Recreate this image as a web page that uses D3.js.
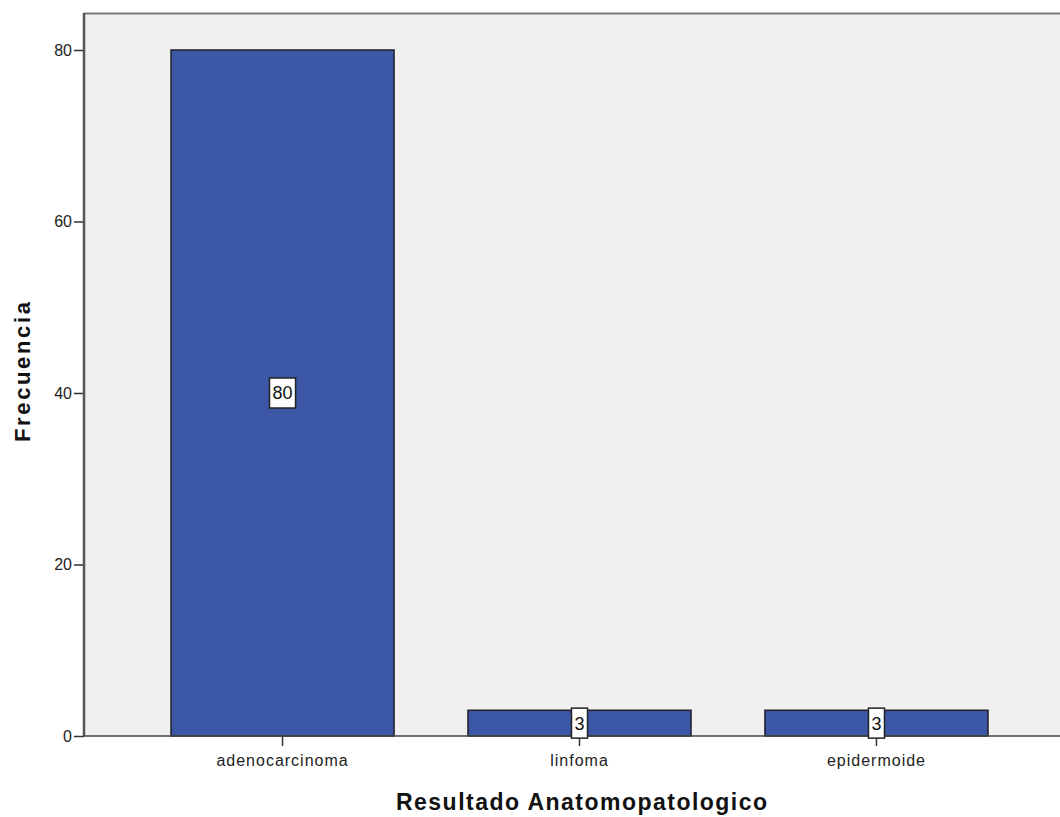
<!DOCTYPE html>
<html>
<head>
<meta charset="utf-8">
<script src="https://cdn.jsdelivr.net/npm/d3@7/dist/d3.min.js"></script>
<style>
  html, body { margin: 0; padding: 0; background: #ffffff; }
  svg { display: block; }
</style>
</head>
<body>
<script>
// Frequency of pathology results
const categories = ["adenocarcinoma", "linfoma", "epidermoide"];
const frequencies = [80, 3, 3];
const yTicks = [0, 20, 40, 60, 80];
const xTitle = "Resultado Anatomopatologico";
const yTitle = "Frecuencia";

const W = 1060, H = 817;
const plot = { left: 84, top: 13, right: 1075, bottom: 736 };
const FONT = "Liberation Sans, Arial, sans-serif";

const svg = d3.select("body").append("svg")
  .attr("width", W).attr("height", H);

const x = d3.scaleBand()
  .domain(categories)
  .range([plot.left, plot.right])
  .paddingInner(0.249)
  .paddingOuter(0.293);

const y = d3.scaleLinear()
  .domain([0, 80])
  .range([plot.bottom, 50]);

// plot background
svg.append("rect")
  .attr("x", plot.left).attr("y", plot.top)
  .attr("width", plot.right - plot.left).attr("height", plot.bottom - plot.top)
  .attr("fill", "#f0f0f0");

// top frame line
svg.append("line")
  .attr("x1", plot.left).attr("x2", plot.right)
  .attr("y1", plot.top + 0.5).attr("y2", plot.top + 0.5)
  .attr("stroke", "#7a7a7a").attr("stroke-width", 2);

// bars
svg.append("g").selectAll("rect")
  .data(categories)
  .join("rect")
  .attr("x", d => x(d))
  .attr("y", (d, i) => y(frequencies[i]))
  .attr("width", x.bandwidth())
  .attr("height", (d, i) => y(0) - y(frequencies[i]))
  .attr("fill", "#3d57a7")
  .attr("stroke", "#1e1e28")
  .attr("stroke-width", 1.5);

// y axis
const yAxis = svg.append("g")
  .attr("transform", `translate(${plot.left},0)`)
  .call(d3.axisLeft(y).tickValues(yTicks).tickSize(10).tickPadding(2).tickSizeOuter(0));
yAxis.select(".domain").remove();
yAxis.append("line")
  .attr("x1", 0).attr("x2", 0)
  .attr("y1", plot.top).attr("y2", plot.bottom)
  .attr("stroke", "#555").attr("stroke-width", 2.5);
yAxis.selectAll(".tick line").attr("stroke", "#333").attr("stroke-width", 1.5);
yAxis.selectAll(".tick text")
  .attr("font-family", FONT)
  .attr("font-size", 16).attr("fill", "#222");

// x axis
const xAxis = svg.append("g")
  .attr("transform", `translate(0,${plot.bottom})`)
  .call(d3.axisBottom(x).tickSize(10).tickPadding(9).tickSizeOuter(0));
xAxis.select(".domain").remove();
xAxis.append("line")
  .attr("x1", plot.left).attr("x2", plot.right)
  .attr("y1", 0).attr("y2", 0)
  .attr("stroke", "#444").attr("stroke-width", 1.5);
xAxis.selectAll(".tick line").attr("stroke", "#333").attr("stroke-width", 1.5);
xAxis.selectAll(".tick text")
  .attr("font-family", FONT)
  .attr("font-size", 16).attr("letter-spacing", 1).attr("fill", "#222");

// value labels in the middle of each bar
const labels = svg.append("g").selectAll("g")
  .data(categories)
  .join("g")
  .attr("transform", (d, i) => `translate(${x(d) + x.bandwidth() / 2},${y(frequencies[i] / 2)})`);
labels.append("text")
  .attr("text-anchor", "middle")
  .attr("dy", "0.36em")
  .attr("font-family", FONT)
  .attr("font-size", 18).attr("fill", "#111")
  .text((d, i) => frequencies[i])
  .each(function () {
    const b = this.getBBox();
    d3.select(this.parentNode).insert("rect", "text")
      .attr("x", b.x - 3).attr("y", -15)
      .attr("width", b.width + 6).attr("height", 30)
      .attr("fill", "#ffffff")
      .attr("stroke", "#222").attr("stroke-width", 1.5);
  });

// axis titles
svg.append("text")
  .attr("x", 396).attr("y", 810)
  .attr("textLength", 371).attr("lengthAdjust", "spacing")
  .attr("font-family", FONT)
  .attr("font-weight", "bold").attr("font-size", 23).attr("fill", "#111")
  .text(xTitle);

svg.append("text")
  .attr("transform", `translate(30,442) rotate(-90)`)
  .attr("textLength", 140).attr("lengthAdjust", "spacing")
  .attr("font-family", FONT)
  .attr("font-weight", "bold").attr("font-size", 22).attr("fill", "#111")
  .text(yTitle);
</script>
</body>
</html>
